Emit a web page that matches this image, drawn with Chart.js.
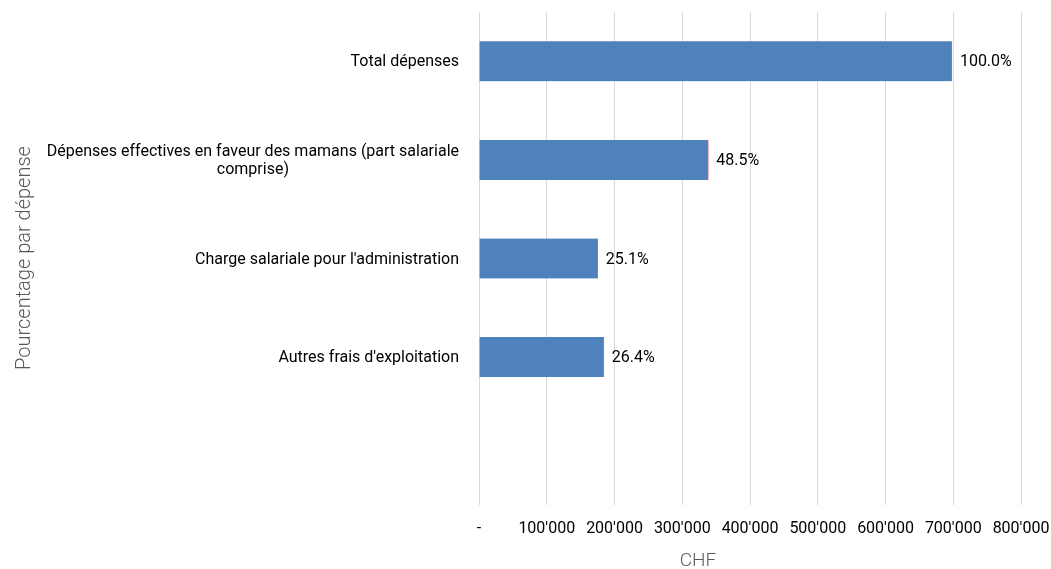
<!DOCTYPE html>
<html>
<head>
<meta charset="utf-8">
<script src="https://cdn.jsdelivr.net/npm/chart.js@4"></script>
<style>
  body { margin: 0; background: #fff; }
  #wrap { width: 1051px; height: 569px; position: relative; }
</style>
</head>
<body>
<div id="wrap"><canvas id="chart"></canvas></div>
<script>
const categories = [
  ['Total dépenses'],
  ['Dépenses effectives en faveur des mamans (part salariale', 'comprise)'],
  ["Charge salariale pour l'administration"],
  ["Autres frais d'exploitation"],
  ['']
];
const values = [698000, 338500, 175200, 184300, null];
const shares = ['100.0%', '48.5%', '25.1%', '26.4%', ''];
const xTicks = [0, 100000, 200000, 300000, 400000, 500000, 600000, 700000, 800000];

const FONT = 'Roboto, "Noto Sans", sans-serif';

function formatChf(v) {
  if (v === 0) return '-';
  return String(v).replace(/\B(?=(\d{3})+(?!\d))/g, "'");
}

const labelsPlugin = {
  id: 'labels',
  afterDraw(chart) {
    const ctx = chart.ctx;
    const y = chart.scales.y;
    const area = chart.chartArea;
    ctx.save();

    // category labels: block right aligned, lines centered in the block
    ctx.fillStyle = '#000';
    ctx.font = '16px ' + FONT;
    ctx.textBaseline = 'middle';
    ctx.textAlign = 'center';
    categories.forEach((lines, i) => {
      const cy = y.getPixelForValue(i) + 1;
      const maxW = Math.max(...lines.map(l => ctx.measureText(l).width));
      const right = area.left - 20;
      lines.forEach((l, j) => {
        ctx.fillText(l, right - maxW / 2, cy + (j - (lines.length - 1) / 2) * 18);
      });
    });

    // percentage at the end of each bar
    const meta = chart.getDatasetMeta(0);
    ctx.textAlign = 'left';
    meta.data.forEach((bar, i) => {
      if (values[i] == null) return;
      ctx.fillText(shares[i], bar.x + 8, bar.y + 1);
    });

    // axis titles
    ctx.fillStyle = '#595959';
    ctx.font = '300 20px ' + FONT;
    ctx.textAlign = 'center';
    ctx.save();
    ctx.translate(25, 258);
    ctx.rotate(-Math.PI / 2);
    ctx.fillText('Pourcentage par dépense', 0, 0);
    ctx.restore();

    ctx.font = '300 19px ' + FONT;
    ctx.fillText('CHF', 698, 561);
    ctx.restore();
  }
};

new Chart(document.getElementById('chart'), {
  type: 'bar',
  plugins: [labelsPlugin],
  data: {
    labels: categories,
    datasets: [{
      data: values,
      backgroundColor: '#4f81bd',
      borderColor: '#e06060',
      borderWidth: { top: 0, right: 1, bottom: 0, left: 0 },
      borderSkipped: 'start',
      barThickness: 40
    }]
  },
  options: {
    indexAxis: 'y',
    responsive: true,
    maintainAspectRatio: false,
    animation: false,
    layout: { padding: { top: 12, right: 30, left: 0, bottom: 0 } },
    plugins: {
      legend: { display: false },
      tooltip: { enabled: false }
    },
    scales: {
      x: {
        min: 0,
        max: 800000,
        afterBuildTicks(scale) {
          scale.ticks = xTicks.map(v => ({ value: v }));
        },
        afterFit(scale) {
          scale.height = 64;
          scale.paddingLeft = 0;
          scale.paddingRight = 0;
        },
        border: { display: false },
        grid: { color: '#d9d9d9', lineWidth: 1, drawTicks: false },
        ticks: {
          padding: 14,
          color: '#000',
          font: { family: FONT, size: 16 },
          maxRotation: 0,
          autoSkip: false,
          callback: v => formatChf(v)
        }
      },
      y: {
        afterFit(scale) { scale.width = 479; },
        border: { display: false },
        grid: { display: false },
        ticks: { display: false }
      }
    }
  }
});
</script>
</body>
</html>
